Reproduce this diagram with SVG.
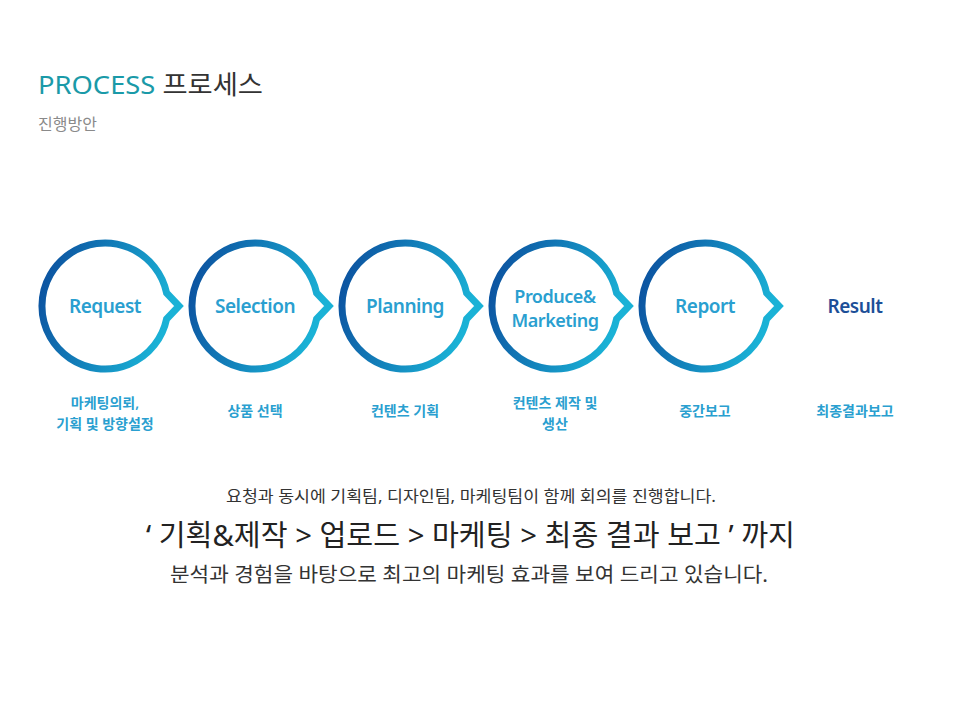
<svg xmlns="http://www.w3.org/2000/svg" width="960" height="720" viewBox="0 0 960 720">
<defs>
<linearGradient id="g" x1="0" y1="0" x2="1" y2="0.3">
<stop offset="0" stop-color="#0b4b9c"/>
<stop offset="1" stop-color="#1ab2d6"/>
</linearGradient>
<path id="ring" d="M61.6,-13 A63,63 0 1 0 61.6,13 L74,0 Z" fill="none" stroke="url(#g)" stroke-width="7" stroke-linejoin="miter"/>
</defs>
<style>
.t{font-family:"Noto Sans","Noto Sans CJK KR",sans-serif}
.n{font-size:19px;fill:#2a9fd0;text-anchor:middle;letter-spacing:-0.5px;font-weight:600}
.s{font-size:14px;fill:#2a9fd0;text-anchor:middle;font-weight:600}
</style>
<rect width="960" height="720" fill="#fff"/>
<text class="t" x="38" y="94" font-size="26" fill="#1a9aa8" textLength="225" lengthAdjust="spacingAndGlyphs">PROCESS <tspan fill="#333">프로세스</tspan></text>
<text class="t" x="38" y="130" font-size="16" fill="#8a8a8a">진행방안</text>
<g id="n1" transform="translate(105,306)"><use href="#ring"/><text class="t n" y="7">Request</text></g>
<g id="n2" transform="translate(255,306)"><use href="#ring"/><text class="t n" y="7">Selection</text></g>
<g id="n3" transform="translate(405,306)"><use href="#ring"/><text class="t n" y="7">Planning</text></g>
<g id="n4" transform="translate(555,306)"><use href="#ring"/><text class="t n" y="-3" font-size="18" style="font-size:18px">Produce&amp;</text><text class="t n" y="21" style="font-size:18px">Marketing</text></g>
<g id="n5" transform="translate(705,306)"><use href="#ring"/><text class="t n" y="7">Report</text></g>
<g id="n6"><text class="t n" x="855" y="313" style="fill:#1c4f98">Result</text></g>
<g id="labels">
<text class="t s" x="105" y="408">마케팅의뢰,</text>
<text class="t s" x="105" y="429">기획 및 방향설정</text>
<text class="t s" x="255" y="416">상품 선택</text>
<text class="t s" x="405" y="416">컨텐츠 기획</text>
<text class="t s" x="555" y="408">컨텐츠 제작 및</text>
<text class="t s" x="555" y="429">생산</text>
<text class="t s" x="705" y="416">중간보고</text>
<text class="t s" x="855" y="416">최종결과보고</text>
</g>
<g id="connectors"/>
<text class="t" x="226" y="502" font-size="16" fill="#333" textLength="490" lengthAdjust="spacingAndGlyphs">요청과 동시에 기획팀, 디자인팀, 마케팅팀이 함께 회의를 진행합니다.</text>
<text class="t" x="146" y="546" font-size="29" fill="#222" textLength="649" lengthAdjust="spacingAndGlyphs">‘ 기획&amp;제작 &gt; 업로드 &gt; 마케팅 &gt; 최종 결과 보고 ’ 까지</text>
<text class="t" x="170" y="582" font-size="20" fill="#333" textLength="598" lengthAdjust="spacingAndGlyphs">분석과 경험을 바탕으로 최고의 마케팅 효과를 보여 드리고 있습니다.</text>
</svg>
